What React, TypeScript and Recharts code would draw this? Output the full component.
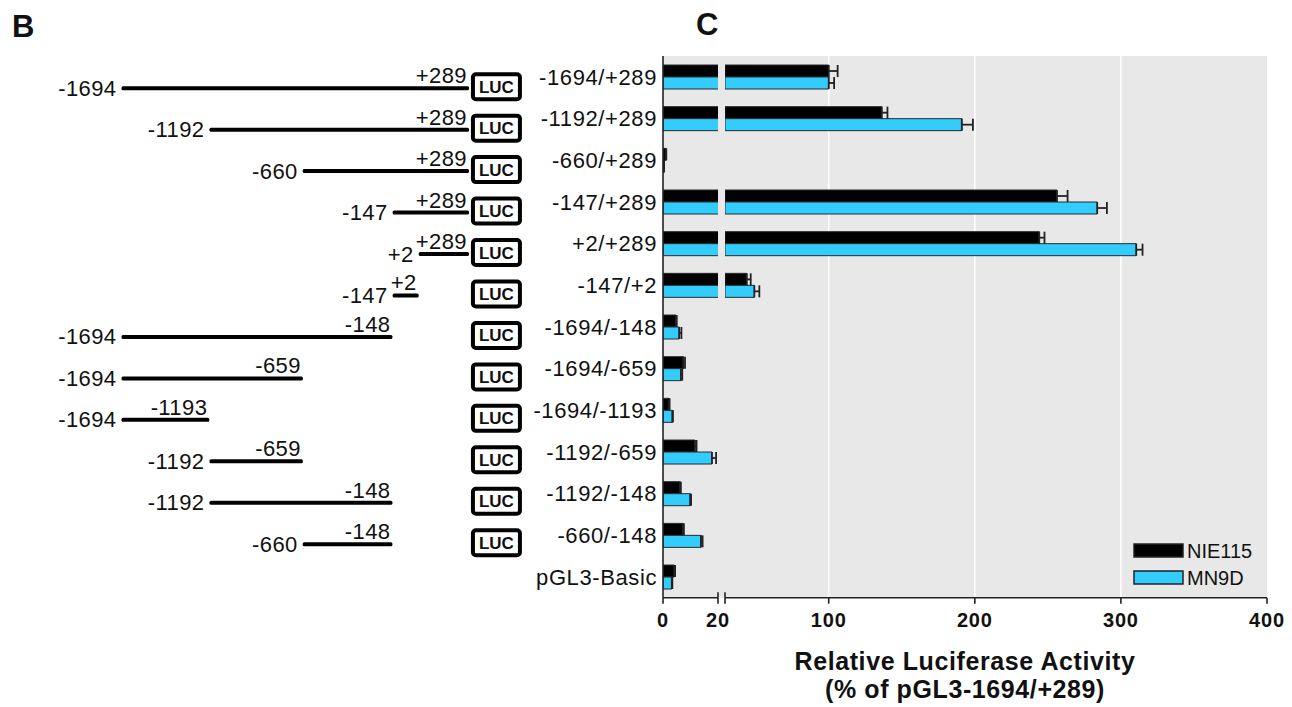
import React from 'react';
import { BarChart, Bar, XAxis, YAxis, CartesianGrid, ErrorBar, Legend } from 'recharts';

// ---------- Panel C data ----------
const constructs = [
  '-1694/+289', '-1192/+289', '-660/+289', '-147/+289', '+2/+289', '-147/+2',
  '-1694/-148', '-1694/-659', '-1694/-1193', '-1192/-659', '-1192/-148', '-660/-148', 'pGL3-Basic',
];
const nie115 = [100, 136.3, 1.0, 256.2, 244.1, 43.9, 4.7, 7.4, 2.2, 11.6, 6.2, 7.2, 4.1];
const nie115Err = [6.1, 3.9, 0.2, 7.3, 3.6, 2.7, 0.3, 0.6, 0.2, 0.6, 0.3, 0.4, 0.3];
const mn9d = [100, 191.1, 0.3, 283.8, 310.5, 49.1, 5.9, 6.5, 3.4, 17.8, 9.9, 13.8, 3.2];
const mn9dErr = [3.7, 7.6, 0.1, 6.6, 4.3, 3.4, 0.8, 0.5, 0.2, 1.5, 0.3, 0.6, 0.2];

const seriesNames = ['NIE115', 'MN9D'];
const seriesColors = ['#000000', '#33ccff'];

// axis break: 0–20 | 29–400
const AXIS_BREAK = [20, 29];
const AXIS_MAX = 400;
const lowTicks = [0, 20];
const highTicks = [100, 200, 300, 400];
const gridValues = [100, 200, 300];

// ---------- Panel B data (promoter constructs, bp) ----------
const regionStart = [-1694, -1192, -660, -147, 2, -147, -1694, -1694, -1694, -1192, -1192, -660];
const regionEnd = [289, 289, 289, 289, 289, 2, -148, -659, -1193, -659, -148, -148];
const GENE_DOMAIN = [-1694, 289];
const LUC_POS = 300;

const FONT = '"Liberation Sans", Arial, Helvetica, sans-serif';
const fmtPos = (v: number) => (v > 0 ? `+${v}` : `${v}`);

const activity = constructs.map((construct, i) => ({
  construct,
  nie: nie115[i],
  mn: mn9d[i],
  nieE: nie115Err[i],
  mnE: mn9dErr[i],
}));

const inSeg = (v: number, dom: number[]) => v >= dom[0] && v <= dom[1];
// bars are clipped to each axis segment; values below a segment's start are left out of it
const segmentData = (dom: number[]) =>
  activity.map((d) => ({
    construct: d.construct,
    nie: d.nie >= dom[0] ? d.nie : null,
    mn: d.mn >= dom[0] ? d.mn : null,
    nieErr: inSeg(d.nie, dom) ? [0, d.nieE] : null,
    mnErr: inSeg(d.mn, dom) ? [0, d.mnE] : null,
  }));

const lowDomain = [0, AXIS_BREAK[0]];
const highDomain = [AXIS_BREAK[1], AXIS_MAX];
const lowData = segmentData(lowDomain);
const highData = segmentData(highDomain);

const regions = regionStart.map((start, i) => ({
  name: constructs[i],
  start,
  end: regionEnd[i],
  span: [start, regionEnd[i]],
}));

// ---------- custom renderers ----------
const TICK_SIZE = 6;
const TICK_MARGIN = 9;

const makeAxisTick = (breakValues: number[], hiddenLabels: number[]) => (props: any) => {
  const { x, y, payload } = props;
  const axisY = y - TICK_SIZE - TICK_MARGIN;
  const v = payload.value;
  return (
    <g>
      {breakValues.includes(v) && (
        <line x1={x} x2={x} y1={axisY - 5.5} y2={axisY} stroke="#222" strokeWidth={1.6} />
      )}
      {!hiddenLabels.includes(v) && (
        <text x={x} y={axisY + 29.5} textAnchor="middle" fontSize={20} fontWeight="bold" fill="#111" letterSpacing={0.8}>
          {v}
        </text>
      )}
    </g>
  );
};
const LowTick = makeAxisTick([AXIS_BREAK[0]], []);
const HighTick = makeAxisTick([AXIS_BREAK[1]], [AXIS_BREAK[1]]);

const CategoryTick = (props: any) => {
  const { x, y, payload } = props;
  return (
    <text x={x} y={y} dy="0.36em" textAnchor="end" fontSize={22} fill="#111" letterSpacing={0.6}>
      {payload.value}
    </text>
  );
};

const TitleLabel = (props: any) => {
  const vb = props.viewBox || { x: 0, y: 0, width: 0, height: 0 };
  const cx = vb.x + vb.width / 2 - 31;
  return (
    <g>
      <text x={cx} y={vb.y + 72} textAnchor="middle" fontSize={25} fontWeight="bold" fill="#111" letterSpacing={0.6}>
        Relative Luciferase Activity
      </text>
      <text x={cx} y={vb.y + 100} textAnchor="middle" fontSize={25} fontWeight="bold" fill="#111" letterSpacing={0.6}>
        (% of pGL3-1694/+289)
      </text>
    </g>
  );
};

const LegendContent = () => (
  <svg width={150} height={52} style={{ display: 'block' }}>
    {seriesNames.map((name, i) => (
      <g key={name}>
        <rect x={1} y={4 + i * 27} width={49} height={13} fill={seriesColors[i]} stroke="#222" strokeWidth={1.5} />
        <text x={54} y={17.5 + i * 27} fontSize={20} fill="#111">
          {name}
        </text>
      </g>
    ))}
  </svg>
);

const ConstructShape = (props: any) => {
  const { x, y, width, height, payload } = props;
  if (!payload) return null;
  const ppu = width / (payload.end - payload.start);
  const cy = y + height / 2;
  const boxX = x + (LUC_POS - payload.start) * ppu;
  return (
    <g>
      <rect x={x} y={y} width={width} height={height} fill="#000" rx={1.5} />
      <text x={x - 5} y={cy + 7.5} textAnchor="end" fontSize={22} fill="#111" letterSpacing={0.4}>
        {fmtPos(payload.start)}
      </text>
      <text x={x + width - 2} y={y - 3} textAnchor="end" fontSize={22} fill="#111" letterSpacing={0.4}>
        {fmtPos(payload.end)}
      </text>
      <rect x={boxX + 2} y={cy - 14} width={47} height={25} rx={3} fill="#fff" stroke="#000" strokeWidth={4} />
      <text x={boxX + 25.5} y={cy + 4.5} textAnchor="middle" fontSize={17} fontWeight="bold" fill="#111">
        LUC
      </text>
    </g>
  );
};

const barStroke = '#2a2a2a';

export default function App() {
  return (
    <div style={{ position: 'absolute', left: 0, top: 0, width: 1292, height: 707, background: '#fff', fontFamily: FONT, overflow: 'hidden' }}>
      {/* plot background */}
      <div style={{ position: 'absolute', left: 663, top: 56, width: 604, height: 541.7, background: '#e8e8e8' }} />

      {/* Panel B: construct diagram */}
      <div style={{ position: 'absolute', left: 0, top: 0 }}>
        <BarChart
          layout="vertical"
          width={540}
          height={707}
          data={regions}
          margin={{ top: 67.2, bottom: 142.3, left: 121.5, right: 71 }}
          barSize={4}
          style={{ overflow: 'visible' }}
        >
          <XAxis type="number" domain={GENE_DOMAIN} hide />
          <YAxis type="category" dataKey="name" hide />
          <Bar dataKey="span" isAnimationActive={false} shape={<ConstructShape />} />
        </BarChart>
      </div>

      {/* Panel C: left segment 0–20 with category axis */}
      <div style={{ position: 'absolute', left: 0, top: 0 }}>
        <BarChart
          layout="vertical"
          width={760}
          height={707}
          data={lowData}
          margin={{ top: 56, right: 42, bottom: 79.3, left: 0 }}
          barSize={12}
          barGap={0}
        >
          <XAxis
            type="number"
            domain={lowDomain}
            ticks={lowTicks}
            interval={0}
            allowDataOverflow
            height={30}
            tickSize={TICK_SIZE}
            tickMargin={TICK_MARGIN}
            tick={<LowTick />}
            axisLine={{ stroke: '#222', strokeWidth: 1.6 }}
            tickLine={{ stroke: '#222', strokeWidth: 1.6 }}
          />
          <YAxis
            type="category"
            dataKey="construct"
            width={663}
            interval={0}
            tickLine={false}
            tickSize={0}
            tickMargin={6}
            tick={<CategoryTick />}
            axisLine={{ stroke: '#222', strokeWidth: 1.6 }}
          />
          <Bar dataKey="nie" name={seriesNames[0]} fill={seriesColors[0]} stroke={barStroke} strokeWidth={1} isAnimationActive={false}>
            <ErrorBar dataKey="nieErr" direction="x" width={6} stroke="#222" strokeWidth={1.8} />
          </Bar>
          <Bar dataKey="mn" name={seriesNames[1]} fill={seriesColors[1]} stroke={barStroke} strokeWidth={1} isAnimationActive={false}>
            <ErrorBar dataKey="mnErr" direction="x" width={6} stroke="#222" strokeWidth={1.8} />
          </Bar>
        </BarChart>
      </div>

      {/* Panel C: right segment 29–400 */}
      <div style={{ position: 'absolute', left: 700, top: 0 }}>
        <BarChart
          layout="vertical"
          width={600}
          height={707}
          data={highData}
          margin={{ top: 56, right: 33, bottom: 79.3, left: 25 }}
          barSize={12}
          barGap={0}
        >
          <CartesianGrid horizontal={false} stroke="#ffffff" strokeWidth={1.6} verticalValues={gridValues} />
          <XAxis
            type="number"
            domain={highDomain}
            ticks={[AXIS_BREAK[1], ...highTicks]}
            interval={0}
            allowDataOverflow
            height={30}
            tickSize={TICK_SIZE}
            tickMargin={TICK_MARGIN}
            tick={<HighTick />}
            axisLine={{ stroke: '#222', strokeWidth: 1.6 }}
            tickLine={{ stroke: '#222', strokeWidth: 1.6 }}
            label={<TitleLabel />}
          />
          <YAxis type="category" dataKey="construct" hide />
          <Bar dataKey="nie" name={seriesNames[0]} fill={seriesColors[0]} stroke={barStroke} strokeWidth={1} isAnimationActive={false}>
            <ErrorBar dataKey="nieErr" direction="x" width={6} stroke="#222" strokeWidth={1.8} />
          </Bar>
          <Bar dataKey="mn" name={seriesNames[1]} fill={seriesColors[1]} stroke={barStroke} strokeWidth={1} isAnimationActive={false}>
            <ErrorBar dataKey="mnErr" direction="x" width={6} stroke="#222" strokeWidth={1.8} />
          </Bar>
          <Legend
            layout="horizontal"
            verticalAlign="middle"
            align="center"
            content={<LegendContent />}
            wrapperStyle={{ position: 'absolute', left: 433, top: 540, width: 150, height: 52 }}
          />
        </BarChart>
      </div>

      {/* panel letters */}
      <svg width={1292} height={707} style={{ position: 'absolute', left: 0, top: 0, pointerEvents: 'none' }}>
        <text x={12} y={36.5} fontSize={31} fontWeight="bold" fill="#111">B</text>
        <text x={696} y={35} fontSize={31} fontWeight="bold" fill="#111">C</text>
      </svg>
    </div>
  );
}
